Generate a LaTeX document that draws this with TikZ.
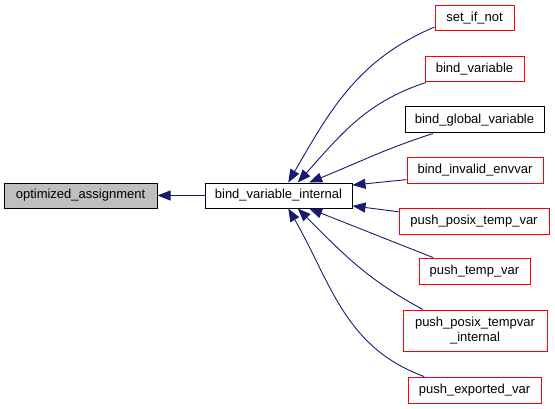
\documentclass[tikz,border=0pt]{standalone}
\usepackage{fontspec}
\setmainfont{Liberation Sans}
\usetikzlibrary{arrows.meta}
\definecolor{edgeblue}{HTML}{191970}
\definecolor{boxgray}{HTML}{BFBFBF}
\tikzset{
  box/.style={draw, line width=1pt, minimum height=25pt, inner sep=0pt,
    font=\fontsize{13}{15}\selectfont},
  redbox/.style={box, draw=red},
  edge/.style={draw=edgeblue, line width=0.9pt, -{Triangle[length=13pt,width=10pt]}}
}
\begin{document}
\begin{tikzpicture}[x=1pt, y=1pt]
    \useasboundingbox (0,0) rectangle (555,408);
    % caller and function
    \node[box, fill=boxgray, minimum width=153pt] (opt) at (80.5,212.5) {optimized\_assignment};
    \node[box, minimum width=147pt] (bvi) at (278.5,212.5) {bind\_variable\_internal};
    % callers of bind_variable_internal
    \node[redbox, minimum width=79pt] (sin) at (474.5,389.5) {set\_if\_not};
    \node[redbox, minimum width=99pt] (bv) at (474.5,338.5) {bind\_variable};
    \node[box, minimum width=139pt, minimum height=26pt] (bgv) at (474.5,288) {bind\_global\_variable};
    \node[redbox, minimum width=136pt, minimum height=26pt] (bie) at (475,238) {bind\_invalid\_envvar};
    \node[redbox, minimum width=150pt, minimum height=26pt] (pptv) at (474,187) {push\_posix\_temp\_var};
    \node[redbox, minimum width=111pt, minimum height=26pt] (ptv) at (474.5,137) {push\_temp\_var};
    \node[redbox, minimum width=144pt, minimum height=41pt, align=center] (ppti) at (475,77.5) {push\_posix\_tempvar\\\_internal};
    \node[redbox, minimum width=133pt, minimum height=26pt] (pev) at (474.5,18) {push\_exported\_var};
    % edges
    \draw[edge] (bvi.west) -- (opt.east);
    \draw[edge] (sin.192) to[out=203,in=60] (bvi.53);
    \draw[edge] (bv.195) to[out=198,in=48] (bvi.34);
    \draw[edge] (bgv.198) to[out=198,in=22] (bvi.23);
    \draw[edge] (bie.188) -- (bvi.8);
    \draw[edge] (pptv.173) -- (bvi.352);
    \draw[edge] (ptv.162) -- (bvi.337);
    \draw[edge] (ppti.158) to[out=152,in=-45] (bvi.326);
    \draw[edge] (pev.165) to[out=160,in=-60] (bvi.307);
\end{tikzpicture}
\end{document}
